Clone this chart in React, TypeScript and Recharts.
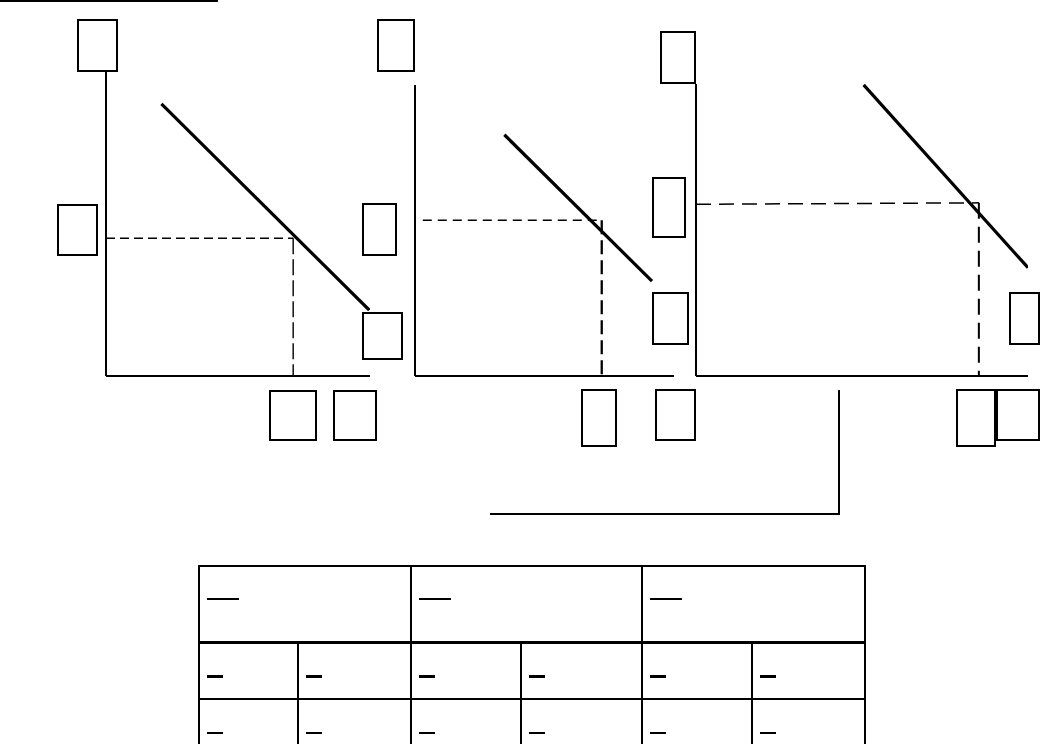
import React from "react";
import { LineChart, Line, XAxis, YAxis, ReferenceLine } from "recharts";

// left market: demand line and equilibrium (price / quantity on a 0-100 scale)
const demandLeft = [
  { q: 21, p: 89.5 },
  { q: 99.7, p: 21.7 },
];
const eqLeft = { q: 70.9, p: 45.3, guideFrom: 0, guideP: 45.3 };

// middle market
const demandMid = [
  { q: 34.5, p: 82.9 },
  { q: 91.5, p: 32.6 },
];
const eqMid = { q: 72.1, p: 53.5, guideFrom: 3, guideP: 53.5 };

// right market
const demandRight = [
  { q: 50.5, p: 99.7 },
  { q: 100, p: 37.1 },
];
const eqRight = { q: 85.2, p: 59.3, guideFrom: 0, guideP: 58.8 };

// blanks in the table (number of spaces in each fill-in line)
const tableHeadBlanks = [8, 8, 8];
const tableRow1Blanks = [4, 4, 4, 4, 4, 4];
const tableRow2Blanks = [4, 4, 4, 4, 4, 4];

// empty label boxes around the diagrams: [left, top, width, height]
const labelBoxes = [
  [77, 19, 41, 53],
  [57, 204, 41, 52],
  [362, 203, 35, 53],
  [362, 312, 41, 48],
  [269, 390, 48, 51],
  [333, 390, 44, 51],
  [377, 19, 38, 53],
  [581, 389, 36, 58],
  [655, 389, 41, 52],
  [660, 31, 36, 53],
  [652, 177, 34, 61],
  [652, 292, 37, 53],
  [1009, 292, 31, 53],
  [956, 389, 40, 58],
  [996, 389, 44, 52],
];

const M = 10;

type Pt = { q: number; p: number };
type Eq = { q: number; p: number; guideFrom: number; guideP: number };

function Market({
  left,
  top,
  w,
  h,
  demand,
  eq,
  hDash,
  vDash,
  hWidth,
  vWidth,
}: {
  left: number;
  top: number;
  w: number;
  h: number;
  demand: Pt[];
  eq: Eq;
  hDash: string;
  vDash: string;
  hWidth: number;
  vWidth: number;
}) {
  return (
    <div style={{ position: "absolute", left: left - M, top: top - M }}>
      <LineChart
        width={w + 2 * M}
        height={h + 2 * M}
        margin={{ top: M, right: M, bottom: M, left: M }}
      >
        <XAxis type="number" dataKey="q" domain={[0, 100]} allowDataOverflow hide />
        <YAxis type="number" dataKey="p" domain={[0, 100]} allowDataOverflow hide />
        {/* axes */}
        <ReferenceLine x={0} stroke="#000" strokeWidth={2} />
        <ReferenceLine y={0} stroke="#000" strokeWidth={2} />
        <ReferenceLine
          segment={[
            { x: eq.guideFrom, y: eq.guideP },
            { x: eq.q, y: eq.p },
          ]}
          stroke="#000"
          strokeWidth={hWidth}
          strokeDasharray={hDash}
        />
        <ReferenceLine
          segment={[
            { x: eq.q, y: eq.p },
            { x: eq.q, y: 0 },
          ]}
          stroke="#000"
          strokeWidth={vWidth}
          strokeDasharray={vDash}
        />
        <Line
          data={demand}
          dataKey="p"
          stroke="#000"
          strokeWidth={3.2}
          dot={false}
          activeDot={false}
          isAnimationActive={false}
        />
      </LineChart>
    </div>
  );
}

const blank = (n: number, thick: number) => (
  <span
    style={{
      textDecoration: "underline",
      textDecorationThickness: thick,
      textUnderlineOffset: 2,
      whiteSpace: "pre",
    }}
  >
    {"\u00a0".repeat(n)}
  </span>
);

const cellBorder = "2px solid #000";

export default function App() {
  return (
    <div
      style={{
        position: "absolute",
        left: 0,
        top: 0,
        width: 1041,
        height: 744,
        background: "#fff",
        fontFamily: "'Liberation Serif', serif",
        overflow: "hidden",
      }}
    >
      <div
        style={{
          position: "absolute",
          left: 0,
          top: 0,
          width: 218,
          height: 2,
          background: "#000",
        }}
      />

      <Market
        left={106}
        top={72}
        w={264}
        h={304}
        demand={demandLeft}
        eq={eqLeft}
        hDash="9 5"
        vDash="16 5"
        hWidth={1.4}
        vWidth={1.4}
      />
      <Market
        left={415}
        top={85}
        w={259}
        h={291}
        demand={demandMid}
        eq={eqMid}
        hDash="9 6"
        vDash="14 6"
        hWidth={1.5}
        vWidth={2.3}
      />
      <Market
        left={696}
        top={84}
        w={332}
        h={292}
        demand={demandRight}
        eq={eqRight}
        hDash="15 8"
        vDash="16 8"
        hWidth={1.5}
        vWidth={2}
      />

      {labelBoxes.map(([x, y, w, h], i) => (
        <div
          key={i}
          style={{
            position: "absolute",
            left: x,
            top: y,
            width: w,
            height: h,
            border: "2px solid #000",
            boxSizing: "border-box",
            background: "#fff",
          }}
        />
      ))}

      {/* bracket below the right diagram */}
      <div
        style={{
          position: "absolute",
          left: 838,
          top: 390,
          width: 2,
          height: 125,
          background: "#000",
        }}
      />
      <div
        style={{
          position: "absolute",
          left: 490,
          top: 513,
          width: 350,
          height: 2,
          background: "#000",
        }}
      />

      <table
        style={{
          position: "absolute",
          left: 198,
          top: 565,
          width: 666,
          height: 179,
          borderCollapse: "collapse",
          tableLayout: "fixed",
          fontSize: 16,
          lineHeight: "16px",
        }}
      >
        <colgroup>
          <col style={{ width: 99 }} />
          <col style={{ width: 113 }} />
          <col style={{ width: 110 }} />
          <col style={{ width: 121 }} />
          <col style={{ width: 110 }} />
          <col style={{ width: 113 }} />
        </colgroup>
        <tbody>
          <tr style={{ height: 76 }}>
            {tableHeadBlanks.map((n, i) => (
              <td
                key={i}
                colSpan={2}
                style={{
                  border: cellBorder,
                  borderBottom: "3px solid #000",
                  verticalAlign: "top",
                  padding: "16px 0 0 7px",
                }}
              >
                {blank(n, 2)}
              </td>
            ))}
          </tr>
          <tr style={{ height: 57 }}>
            {tableRow1Blanks.map((n, i) => (
              <td
                key={i}
                style={{
                  border: cellBorder,
                  borderTop: "3px solid #000",
                  verticalAlign: "top",
                  padding: "16px 0 0 7px",
                }}
              >
                {blank(n, 3)}
              </td>
            ))}
          </tr>
          <tr style={{ height: 46 }}>
            {tableRow2Blanks.map((n, i) => (
              <td
                key={i}
                style={{
                  border: cellBorder,
                  verticalAlign: "top",
                  padding: "17px 0 0 7px",
                }}
              >
                {blank(n, 2)}
              </td>
            ))}
          </tr>
        </tbody>
      </table>
    </div>
  );
}
